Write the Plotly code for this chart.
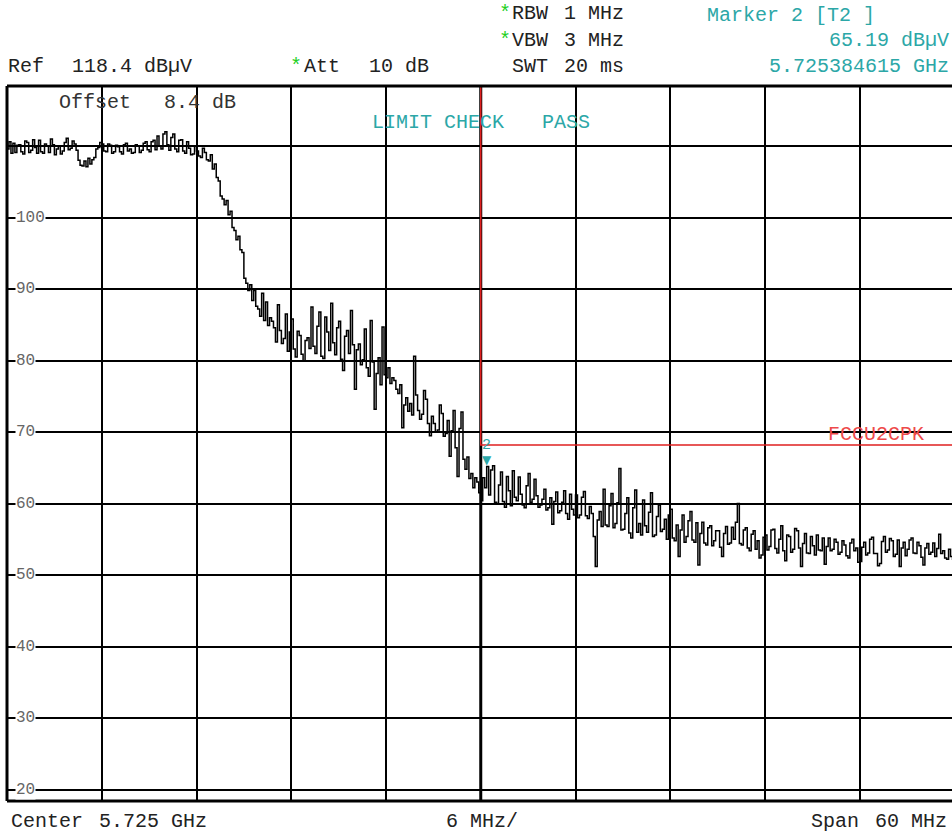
import plotly.graph_objects as go

# ---------------- data ----------------
start_ghz = 5.695
step_ghz = 0.000125         # one trace point every 0.125 MHz
center_ghz = 5.725
span_ghz = 0.060
ref_level = 118.4
range_db = 100.0
limit_level = 68.2
marker_freq = 5.725384615
marker_level = 65.19

# trace levels in dBuV, 8 points per MHz, one row per MHz
level_low = [
    109.6, 110.6, 109.0, 110.4, 109.1, 110.1, 110.2, 109.2,
    108.9, 110.7, 110.5, 109.1, 109.4, 110.9, 109.8, 109.0,
    110.8, 109.2, 109.0, 110.3, 110.0, 109.1, 111.0, 110.2,
    108.8, 109.6, 110.0, 108.9, 109.3, 110.5, 111.1, 109.5,
    109.7, 110.7, 110.3, 109.4, 108.0, 107.3, 107.2, 107.9,
    107.1, 108.3, 107.5, 108.1, 108.4, 109.6, 109.8, 110.5,
    110.3, 109.3, 109.2, 110.3, 110.1, 109.0, 109.2, 110.1,
    109.9, 109.2, 108.9, 110.2, 110.4, 109.3, 109.6, 109.0,
    109.1, 110.2, 110.0, 109.1, 109.4, 110.4, 110.6, 109.5,
    109.2, 110.6, 110.8, 109.5, 111.4, 110.0, 109.6, 111.7,
    112.0, 110.2, 109.4, 111.2, 111.7, 109.6, 109.2, 110.8,
    110.9, 109.3, 109.0, 110.6, 109.7, 108.8, 108.9, 110.0,
    109.3, 108.6, 108.4, 109.7, 109.1, 108.1, 107.9, 108.8,
    106.8, 107.5, 105.6, 105.1, 103.0, 102.6, 101.8, 102.4,
    100.4, 100.9, 98.6, 98.2, 96.9, 97.4, 95.5, 95.1,
    91.5, 90.8, 89.8, 90.6, 88.4, 89.8, 87.6, 87.2,
    86.2, 89.4, 85.6, 88.2, 84.9, 86.0, 85.5, 84.6,
    82.6, 87.8, 84.2, 82.4, 83.1, 86.5, 81.3, 84.0,
    85.8, 81.6, 80.5, 84.1, 83.5, 80.9, 79.9, 82.8,
    83.2, 81.7, 87.5, 82.0, 81.0, 84.8, 86.8, 80.6,
    80.3, 86.1, 84.0, 81.4, 88.0, 82.5, 80.8, 84.6,
    85.5, 80.2, 78.6, 83.4, 84.2, 81.0, 87.0, 82.2,
    76.0, 81.5, 82.3, 79.4, 80.1, 84.4, 79.0, 77.8,
    85.6, 79.8, 73.2, 78.2, 80.4, 76.6, 84.7, 78.0,
    77.6, 79.0, 76.8, 77.6, 77.2, 76.0, 75.4, 76.6,
    70.6, 73.8, 74.8, 72.9, 74.0, 72.4, 80.6, 75.2,
    73.0, 71.8, 72.5, 75.8, 74.6, 71.2, 69.5, 72.2,
    71.2, 70.0, 70.3, 73.8, 72.6, 69.4, 69.8, 71.6,
    66.6, 70.2, 73.0, 67.8, 63.8, 70.5, 72.8, 66.2,
    64.8, 66.5, 63.5, 64.2, 62.2, 63.6, 63.0, 61.5,
]
level_high = [
    60.4, 63.6, 62.2, 65.2, 61.2, 64.7, 65.3, 60.2,
    60.0, 62.6, 64.4, 60.3, 59.5, 63.8, 61.8, 59.7,
    64.6, 60.9, 60.4, 63.7, 61.3, 59.8, 59.4, 62.5,
    64.2, 60.2, 60.6, 63.4, 61.1, 59.5, 59.8, 60.6,
    62.0, 59.1, 59.4, 60.8, 57.1, 60.3, 61.6, 58.7,
    59.0, 60.2, 61.8, 58.6, 57.8, 61.3, 59.2, 58.4,
    61.2, 58.0, 58.4, 60.9, 61.7, 58.3, 57.9, 59.6,
    58.6, 55.4, 51.2, 57.7, 58.9, 56.8, 62.0, 57.0,
    56.8, 59.7, 61.4, 56.6, 57.2, 60.1, 64.9, 56.3,
    56.4, 58.6, 60.8, 55.9, 55.2, 59.4, 61.9, 56.0,
    57.2, 55.6, 60.5, 56.9, 56.0, 58.8, 61.5, 55.4,
    55.6, 58.2, 59.8, 56.1, 56.4, 57.8, 55.0, 58.4,
    59.2, 55.2, 54.8, 57.0, 52.6, 56.3, 58.4, 54.6,
    55.4, 57.6, 58.9, 54.9, 54.6, 57.3, 51.4, 55.8,
    57.4, 54.5, 54.2, 56.6, 56.9, 54.1, 54.8, 56.2,
    56.2, 53.9, 52.6, 55.8, 56.8, 54.3, 54.5, 56.7,
    55.0, 57.4, 60.0, 54.4, 54.2, 56.3, 56.6, 53.8,
    53.4, 55.7, 56.2, 53.6, 54.8, 52.4, 52.8, 55.3,
    55.6, 53.5, 54.0, 56.3, 56.4, 53.7, 53.1, 55.0,
    56.9, 53.4, 52.0, 55.6, 55.4, 53.2, 53.6, 56.5,
    56.2, 53.8, 51.2, 54.4, 55.8, 53.1, 53.0, 55.4,
    54.1, 52.8, 55.6, 53.5, 53.4, 55.2, 51.5, 54.0,
    55.2, 53.4, 53.6, 55.0, 54.6, 52.9, 53.2, 54.8,
    54.2, 52.7, 52.4, 54.5, 55.0, 53.4, 53.8, 51.8,
    51.9, 53.9, 54.6, 52.8, 53.1, 55.0, 55.3, 53.0,
    53.0, 51.3, 51.6, 54.7, 55.4, 53.2, 53.5, 55.1,
    54.8, 52.6, 52.9, 54.9, 51.2, 53.8, 54.6, 52.7,
    53.6, 54.9, 55.2, 53.1, 53.0, 54.6, 54.1, 52.5,
    51.4, 53.8, 54.4, 52.9, 53.2, 54.5, 52.6, 53.7,
    55.7, 53.0, 53.4, 52.4, 52.2, 53.6, 52.6, 52.2,
    52.6,
]
levels = level_low + level_high
freqs = [start_ghz + i * step_ghz for i in range(len(levels))]

y_labels = [100, 90, 80, 70, 60, 50, 40, 30, 20]

# ---------------- layout geometry ----------------
W, H = 952, 833
L, R, T, B = 7, 952, 86, 801
px_per_div = 94.75
x_end = start_ghz + (R - L) / px_per_div * 0.006


def pxx(x):
    return (x - L) / (R - L)


def pxy(y):
    return (B - y) / (B - T)


MONO = "Liberation Mono, Courier New, monospace"
TEAL = "#2ca7a7"
DARK = "#222222"
GREEN = "#1fd01f"
RED = "#e02020"

fig = go.Figure()

# thick centre line
fig.add_trace(go.Scatter(x=[center_ghz, center_ghz], y=[ref_level - range_db - 5, ref_level + 5],
                         mode="lines", line=dict(color="black", width=3), hoverinfo="skip"))
# limit line FCCU2CPK
fig.add_trace(go.Scatter(x=[center_ghz, center_ghz, start_ghz + span_ghz],
                         y=[ref_level + 10, limit_level, limit_level],
                         mode="lines", line=dict(color=RED, width=1.5), hoverinfo="skip"))
# spectrum trace
fig.add_trace(go.Scatter(x=freqs, y=levels, mode="lines",
                         line=dict(color="black", width=1.5, shape="hv")))

ann = []


def txt(x, y, s, color=DARK, size=20, anchor="left", **kw):
    ann.append(dict(x=pxx(x), y=pxy(y), xref="paper", yref="paper", text=s, showarrow=False,
                    xanchor=anchor, yanchor="middle",
                    font=dict(family=MONO, size=size, color=color), **kw))


# header
txt(497, 13, "*", GREEN)
txt(510, 13, "RBW")
txt(562, 13, "1 MHz")
txt(497, 40, "*", GREEN)
txt(510, 40, "VBW")
txt(562, 40, "3 MHz")
txt(510, 66, "SWT")
txt(562, 66, "20 ms")
txt(6, 66, "Ref")
txt(70, 66, "118.4 dBµV")
txt(288, 66, "*", GREEN)
txt(302, 66, "Att")
txt(367, 66, "10 dB")
txt(705, 15, "Marker 2 [T2 ]", TEAL)
txt(951, 40, "65.19 dBµV", TEAL, anchor="right")
txt(951, 66, "5.725384615 GHz", TEAL, anchor="right")

# inside the screen
txt(57, 102, "Offset", "#333333")
txt(162, 102, "8.4", "#333333")
txt(210, 102, "dB", "#333333")
txt(370, 123, "LIMIT CHECK", TEAL)
txt(540, 123, "PASS", TEAL)
txt(826, 434, "FCCU2CPK", "#ee4a4a")

# footer
txt(9, 822, "Center")
txt(97, 822, "5.725 GHz")
txt(444, 822, "6 MHz/")
txt(809, 822, "Span")
txt(873, 822, "60 MHz")

# y labels on the grid lines, white background cuts the line
for v in y_labels:
    ann.append(dict(x=pxx(15), y=v, xref="paper", yref="y", text=str(v), showarrow=False,
                    xanchor="left", yanchor="middle", bgcolor="white", borderpad=0,
                    font=dict(family=MONO, size=16, color="#666666")))

# marker 2
ann.append(dict(x=marker_freq, y=marker_level, xref="x", yref="y", text="▼", showarrow=False,
                xanchor="center", yanchor="middle", yshift=6,
                font=dict(family="DejaVu Sans", size=12, color=TEAL)))
ann.append(dict(x=marker_freq, y=marker_level, xref="x", yref="y", text="2", showarrow=False,
                xanchor="center", yanchor="middle", yshift=21,
                font=dict(family=MONO, size=15, color=TEAL)))

shapes = [
    dict(type="line", xref="paper", yref="paper", x0=0, x1=0, y0=0, y1=1,
         line=dict(color="black", width=3)),
    dict(type="line", xref="paper", yref="paper", x0=0, x1=1, y0=1, y1=1,
         line=dict(color="black", width=3)),
    dict(type="line", xref="paper", yref="paper", x0=0, x1=1, y0=0, y1=0,
         line=dict(color="black", width=3)),
]

fig.update_layout(
    width=W, height=H,
    margin=dict(l=L, r=W - R, t=T, b=H - B, pad=0),
    paper_bgcolor="white", plot_bgcolor="white",
    showlegend=False,
    annotations=ann, shapes=shapes,
    xaxis=dict(range=[start_ghz, x_end], tick0=start_ghz, dtick=0.006,
               showgrid=True, gridcolor="black", gridwidth=1.6,
               showticklabels=False, ticks="", zeroline=False, showline=False,
               fixedrange=True),
    yaxis=dict(range=[ref_level - range_db, ref_level], tick0=20, dtick=10,
               showgrid=True, gridcolor="black", gridwidth=1.6,
               showticklabels=False, ticks="", zeroline=False, showline=False,
               fixedrange=True),
)

fig.write_html("out.html", config={"displayModeBar": False},
               post_script="document.body.style.margin='0';document.body.style.overflow='hidden';")
